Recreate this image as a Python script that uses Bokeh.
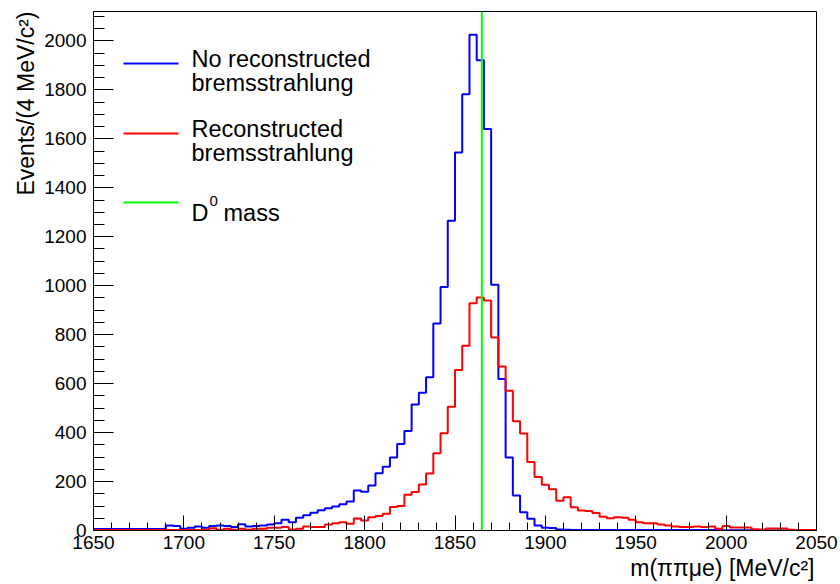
import numpy as np
from bokeh.plotting import figure
from bokeh.models import Range1d, SingleIntervalTicker, Span, Label, Arrow, Title
from bokeh.embed import file_html
from bokeh.resources import INLINE

# ---------------- data ----------------
x_min, x_max = 1650, 2050
bin_width = 4
y_max = 2120
d0_mass = 1864.84

no_brem = [
    6, 6, 6, 6, 6, 6, 6, 6, 6, 6,
    20, 18, 7, 11, 16, 11, 18, 20, 18, 14,
    26, 16, 18, 20, 24, 30, 44, 34, 52, 62,
    72, 83, 91, 98, 107, 118, 163, 158, 184, 234,
    260, 298, 353, 406, 515, 563, 626, 846, 995, 1265,
    1544, 1782, 2025, 1921, 1640, 1004, 619, 298, 143, 75,
    48, 20, 11, 10, 4, 3, 2, 2, 2, 2,
    2, 2, 2, 2, 2, 2, 2, 2, 2, 2,
    2, 2, 2, 2, 2, 2, 2, 1, 1, 1,
    1, 0, 0, 0, 0, 0, 0, 0, 0, 0,
]
with_brem = [
    2, 2, 2, 2, 2, 2, 2, 2, 2, 2,
    2, 2, 2, 2, 2, 3, 9, 3, 7, 3,
    7, 3, 7, 7, 11, 11, 14, 4, 7, 16,
    14, 14, 24, 30, 34, 28, 49, 41, 54, 59,
    68, 96, 100, 146, 157, 188, 233, 316, 397, 506,
    656, 755, 928, 952, 940, 788, 670, 571, 446, 396,
    280, 219, 187, 168, 122, 136, 95, 82, 80, 71,
    56, 50, 54, 52, 44, 34, 30, 30, 24, 20,
    16, 14, 14, 16, 14, 16, 7, 18, 12, 12,
    12, 5, 4, 8, 8, 8, 3, 2, 2, 2,
]
legend_labels = [["No reconstructed", "bremsstrahlung"],
                 ["Reconstructed", "bremsstrahlung"],
                 ["D", "0", "mass"]]
x_title = "m(ππμe) [MeV/c²]"
y_title = "Events/(4 MeV/c²)"

edges = np.arange(x_min, x_max + bin_width, bin_width)

FONT = "Liberation Sans"

p = figure(width=840, height=584, output_backend="svg", toolbar_location=None,
           x_range=Range1d(x_min, x_max), y_range=Range1d(0, y_max))
p.min_border_left = 93
p.min_border_right = 24
p.min_border_top = 11
p.min_border_bottom = 54
p.background_fill_color = "white"
p.border_fill_color = "white"
p.outline_line_color = "black"
p.outline_line_width = 1
p.grid.visible = False

p.xaxis.ticker = SingleIntervalTicker(interval=50, num_minor_ticks=5)
p.yaxis.ticker = SingleIntervalTicker(interval=200, num_minor_ticks=4)
for ax in (p.xaxis, p.yaxis):
    ax.major_tick_out = 0
    ax.minor_tick_out = 0
    ax.axis_line_color = "black"
    ax.major_tick_line_color = "black"
    ax.minor_tick_line_color = "black"
    ax.major_label_text_font = FONT
    ax.major_label_text_font_size = "19px"
    ax.major_label_text_color = "black"
p.xaxis.major_tick_in = 15
p.xaxis.minor_tick_in = 8
p.yaxis.major_tick_in = 20
p.yaxis.minor_tick_in = 11
p.xaxis.major_label_standoff = 5
p.yaxis.major_label_standoff = 7

# axis titles as right/top-aligned titles in the side panels
p.add_layout(Title(text=x_title, align="right", standoff=3, offset=2,
                   text_font=FONT, text_font_size="23px", text_font_style="normal",
                   text_color="black"), "below")
p.add_layout(Title(text=y_title, align="right", standoff=6,
                   text_font=FONT, text_font_size="23px", text_font_style="normal",
                   text_color="black"), "left")

p.step(x=edges, y=np.append(no_brem, no_brem[-1]), mode="after",
       line_color="#0000ff", line_width=2)
p.step(x=edges, y=np.append(with_brem, with_brem[-1]), mode="after",
       line_color="#ff0000", line_width=2)
p.add_layout(Span(location=d0_mass, dimension="height", line_color="#00ff00", line_width=2))

# legend
colors = ["#0000ff", "#ff0000", "#00ff00"]
line_y = [467, 397, 328]
for c, ly in zip(colors, line_y):
    p.add_layout(Arrow(end=None, x_start=30, y_start=ly, x_end=85, y_end=ly,
                       start_units="screen", end_units="screen",
                       line_color=c, line_width=2))
text_x = 98
LFS = "23.5px"
rows = [(legend_labels[0][0], 472), (legend_labels[0][1], 448),
        (legend_labels[1][0], 402), (legend_labels[1][1], 378)]
for t, ty in rows:
    p.add_layout(Label(x=text_x, y=ty, x_units="screen", y_units="screen", text=t,
                       text_font=FONT, text_font_size=LFS, text_baseline="alphabetic",
                       text_color="black"))
p.add_layout(Label(x=text_x, y=318, x_units="screen", y_units="screen", text=legend_labels[2][0],
                   text_font=FONT, text_font_size=LFS, text_baseline="alphabetic", text_color="black"))
p.add_layout(Label(x=text_x + 18, y=330, x_units="screen", y_units="screen", text=legend_labels[2][1],
                   text_font=FONT, text_font_size="15px", text_baseline="alphabetic", text_color="black"))
p.add_layout(Label(x=text_x + 32, y=318, x_units="screen", y_units="screen", text=legend_labels[2][2],
                   text_font=FONT, text_font_size=LFS, text_baseline="alphabetic", text_color="black"))

open("out.html", "w").write(file_html(p, INLINE))
